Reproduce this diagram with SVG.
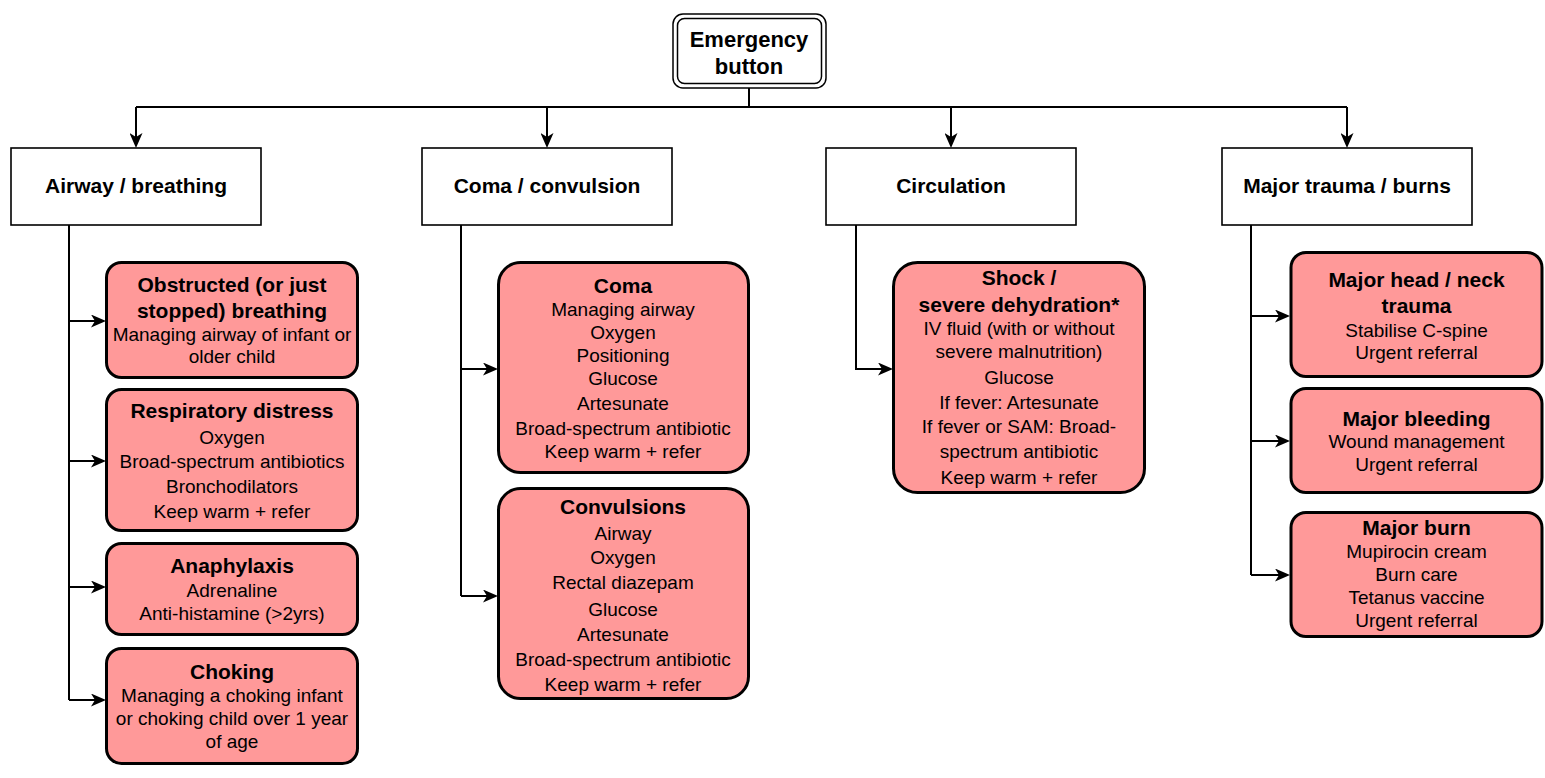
<svg xmlns="http://www.w3.org/2000/svg" width="1545" height="778" viewBox="0 0 1545 778">
  <style>
    .bg { fill: #ffffff; }
    .cat { fill: #ffffff; stroke: #000000; stroke-width: 1.6; }
    .item { fill: #ff9999; stroke: #000000; stroke-width: 3; }
    .btn { fill: #ffffff; stroke: #000000; stroke-width: 1.5; }
    .wire { fill: none; stroke: #000000; stroke-width: 2; }
    text { font-family: "Liberation Sans", Arial, Helvetica, sans-serif; fill: #000000; text-anchor: middle; }
    .root { font-size: 22px; font-weight: bold; }
    .h { font-size: 21px; font-weight: bold; }
    .t { font-size: 21px; font-weight: bold; }
    .b { font-size: 19px; }
  </style>
  <defs>
    <marker id="arrow" viewBox="0 0 15 13" markerWidth="15" markerHeight="13" refX="11" refY="6.5" orient="auto" markerUnits="userSpaceOnUse">
      <path d="M0,0 L15,6.5 L0,13 L4,6.5 Z" fill="#000000"/>
    </marker>
  </defs>

  <rect class="bg" x="0" y="0" width="1545" height="778"/>

  <!-- connectors -->
  <g id="connectors">
    <path class="wire" d="M749,88 V107"/>
    <path class="wire" d="M136,107 H1347"/>
    <path class="wire" d="M136,107 V144" marker-end="url(#arrow)"/>
    <path class="wire" d="M547,107 V144" marker-end="url(#arrow)"/>
    <path class="wire" d="M951,107 V144" marker-end="url(#arrow)"/>
    <path class="wire" d="M1347,107 V144" marker-end="url(#arrow)"/>

    <!-- airway / breathing branch -->
    <path class="wire" d="M69,225 V700"/>
    <path class="wire" d="M69,321 H102" marker-end="url(#arrow)"/>
    <path class="wire" d="M69,461 H102" marker-end="url(#arrow)"/>
    <path class="wire" d="M69,587 H102" marker-end="url(#arrow)"/>
    <path class="wire" d="M69,700 H102" marker-end="url(#arrow)"/>

    <!-- coma / convulsion branch -->
    <path class="wire" d="M461,225 V596"/>
    <path class="wire" d="M461,369 H494" marker-end="url(#arrow)"/>
    <path class="wire" d="M461,596 H494" marker-end="url(#arrow)"/>

    <!-- circulation branch -->
    <path class="wire" d="M856,225 V369 H889" marker-end="url(#arrow)"/>

    <!-- major trauma / burns branch -->
    <path class="wire" d="M1251,225 V575"/>
    <path class="wire" d="M1251,316 H1286" marker-end="url(#arrow)"/>
    <path class="wire" d="M1251,441 H1286" marker-end="url(#arrow)"/>
    <path class="wire" d="M1251,575 H1286" marker-end="url(#arrow)"/>
  </g>

  <!-- root -->
  <g id="emergency-button">
    <rect class="btn" x="673" y="14" width="153" height="74" rx="10"/>
    <rect class="btn" x="677.5" y="18.5" width="144" height="65" rx="7"/>
    <text class="root" x="749" y="47">Emergency</text>
    <text class="root" x="749" y="74">button</text>
  </g>

  <!-- categories -->
  <g id="cat-airway">
    <rect class="cat" x="11" y="148" width="250" height="77"/>
    <text class="h" x="136" y="193">Airway / breathing</text>
  </g>
  <g id="cat-coma">
    <rect class="cat" x="422" y="148" width="250" height="77"/>
    <text class="h" x="547" y="193">Coma / convulsion</text>
  </g>
  <g id="cat-circulation">
    <rect class="cat" x="826" y="148" width="250" height="77"/>
    <text class="h" x="951" y="193">Circulation</text>
  </g>
  <g id="cat-trauma">
    <rect class="cat" x="1222" y="148" width="250" height="77"/>
    <text class="h" x="1347" y="193">Major trauma / burns</text>
  </g>

  <!-- airway / breathing items -->
  <g id="obstructed">
    <rect class="item" x="106.5" y="262.5" width="251" height="115" rx="15"/>
    <text class="t" x="232" y="292">Obstructed (or just</text>
    <text class="t" x="232" y="318">stopped) breathing</text>
    <text class="b" x="232" y="341">Managing airway of infant or</text>
    <text class="b" x="232" y="363">older child</text>
  </g>
  <g id="respiratory-distress">
    <rect class="item" x="106.5" y="389.5" width="251" height="141" rx="15"/>
    <text class="t" x="232" y="418">Respiratory distress</text>
    <text class="b" x="232" y="444">Oxygen</text>
    <text class="b" x="232" y="468">Broad-spectrum antibiotics</text>
    <text class="b" x="232" y="493">Bronchodilators</text>
    <text class="b" x="232" y="518">Keep warm + refer</text>
  </g>
  <g id="anaphylaxis">
    <rect class="item" x="106.5" y="543.5" width="251" height="91" rx="15"/>
    <text class="t" x="232" y="573">Anaphylaxis</text>
    <text class="b" x="232" y="597">Adrenaline</text>
    <text class="b" x="232" y="620">Anti-histamine (&gt;2yrs)</text>
  </g>
  <g id="choking">
    <rect class="item" x="106.5" y="648.5" width="251" height="115" rx="15"/>
    <text class="t" x="232" y="679">Choking</text>
    <text class="b" x="232" y="702">Managing a choking infant</text>
    <text class="b" x="232" y="725">or choking child over 1 year</text>
    <text class="b" x="232" y="748">of age</text>
  </g>

  <!-- coma / convulsion items -->
  <g id="coma">
    <rect class="item" x="498.5" y="262.5" width="250" height="210" rx="22"/>
    <text class="t" x="623" y="293">Coma</text>
    <text class="b" x="623" y="316">Managing airway</text>
    <text class="b" x="623" y="339">Oxygen</text>
    <text class="b" x="623" y="362">Positioning</text>
    <text class="b" x="623" y="385">Glucose</text>
    <text class="b" x="623" y="410">Artesunate</text>
    <text class="b" x="623" y="435">Broad-spectrum antibiotic</text>
    <text class="b" x="623" y="458">Keep warm + refer</text>
  </g>
  <g id="convulsions">
    <rect class="item" x="498.5" y="488.5" width="250" height="210" rx="22"/>
    <text class="t" x="623" y="514">Convulsions</text>
    <text class="b" x="623" y="540">Airway</text>
    <text class="b" x="623" y="564">Oxygen</text>
    <text class="b" x="623" y="589">Rectal diazepam</text>
    <text class="b" x="623" y="616">Glucose</text>
    <text class="b" x="623" y="641">Artesunate</text>
    <text class="b" x="623" y="666">Broad-spectrum antibiotic</text>
    <text class="b" x="623" y="691">Keep warm + refer</text>
  </g>

  <!-- circulation item -->
  <g id="shock">
    <rect class="item" x="893.5" y="262.5" width="251" height="230" rx="24"/>
    <text class="t" x="1019" y="285">Shock /</text>
    <text class="t" x="1019" y="312">severe dehydration*</text>
    <text class="b" x="1019" y="335">IV fluid (with or without</text>
    <text class="b" x="1019" y="358">severe malnutrition)</text>
    <text class="b" x="1019" y="384">Glucose</text>
    <text class="b" x="1019" y="409">If fever: Artesunate</text>
    <text class="b" x="1019" y="433">If fever or SAM: Broad-</text>
    <text class="b" x="1019" y="458">spectrum antibiotic</text>
    <text class="b" x="1019" y="484">Keep warm + refer</text>
  </g>

  <!-- major trauma / burns items -->
  <g id="head-neck">
    <rect class="item" x="1291" y="252.5" width="251" height="124" rx="15"/>
    <text class="t" x="1416.5" y="287">Major head / neck</text>
    <text class="t" x="1416.5" y="313">trauma</text>
    <text class="b" x="1416.5" y="337">Stabilise C-spine</text>
    <text class="b" x="1416.5" y="359">Urgent referral</text>
  </g>
  <g id="bleeding">
    <rect class="item" x="1291" y="388.5" width="251" height="104" rx="15"/>
    <text class="t" x="1416.5" y="426">Major bleeding</text>
    <text class="b" x="1416.5" y="448">Wound management</text>
    <text class="b" x="1416.5" y="471">Urgent referral</text>
  </g>
  <g id="burn">
    <rect class="item" x="1291" y="512.5" width="251" height="124" rx="15"/>
    <text class="t" x="1416.5" y="535">Major burn</text>
    <text class="b" x="1416.5" y="558">Mupirocin cream</text>
    <text class="b" x="1416.5" y="581">Burn care</text>
    <text class="b" x="1416.5" y="604">Tetanus vaccine</text>
    <text class="b" x="1416.5" y="627">Urgent referral</text>
  </g>
</svg>
